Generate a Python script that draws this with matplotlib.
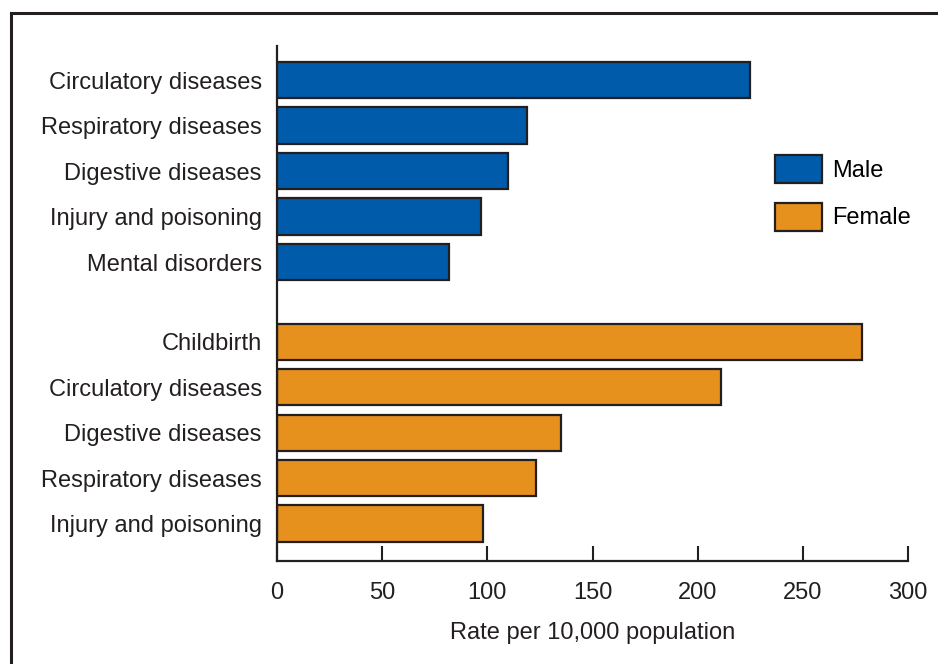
import matplotlib.pyplot as plt
from matplotlib.patches import Patch
from matplotlib.lines import Line2D

# data
male_labels = ['Circulatory diseases', 'Respiratory diseases', 'Digestive diseases',
               'Injury and poisoning', 'Mental disorders']
male_values = [225, 119, 110, 97, 82]
female_labels = ['Childbirth', 'Circulatory diseases', 'Digestive diseases',
                 'Respiratory diseases', 'Injury and poisoning']
female_values = [278, 211, 135, 123, 98]
x_ticks = [0, 50, 100, 150, 200, 250, 300]

blue = '#005BAA'
orange = '#E6901E'
edge = '#231F20'
fs = 17

plt.rcParams['font.family'] = ['Liberation Sans', 'DejaVu Sans']

fig = plt.figure(figsize=(9.38, 6.64), dpi=100)
ax = fig.add_axes([277 / 938, 1 - 561 / 664, (908 - 277) / 938, (561 - 46) / 664])

male_pos = [0, 1, 2, 3, 4]
female_pos = [5.75, 6.75, 7.75, 8.75, 9.75]

ax.barh(male_pos, male_values, height=0.8, color=blue, edgecolor=edge, linewidth=1.6)
ax.barh(female_pos, female_values, height=0.8, color=orange, edgecolor=edge, linewidth=1.6)

ax.set_yticks(male_pos + female_pos)
ax.set_yticklabels(male_labels + female_labels)
ax.set_ylim(10.57, -0.75)
ax.set_xlim(0, 300)
ax.set_xticks(x_ticks)

ax.tick_params(axis='y', length=0, pad=11, labelsize=fs, labelcolor=edge)
ax.tick_params(axis='x', direction='in', length=10.5, width=1.5, color=edge,
               pad=15, labelsize=fs, labelcolor=edge)
for s in ['top', 'right']:
    ax.spines[s].set_visible(False)
for s in ['left', 'bottom']:
    ax.spines[s].set_linewidth(1.6)
    ax.spines[s].set_color(edge)

ax.set_xlabel('Rate per 10,000 population', fontsize=fs, color=edge, labelpad=13)

handles = [Patch(facecolor=blue, edgecolor=edge, linewidth=1.6, label='Male'),
           Patch(facecolor=orange, edgecolor=edge, linewidth=1.6, label='Female')]
ax.legend(handles=handles, loc='upper left', bbox_to_anchor=(775 / 938, 1 - 155 / 664),
          bbox_transform=fig.transFigure, frameon=False, fontsize=fs,
          handlelength=1.99, handleheight=1.43, labelspacing=0.85, handletextpad=0.42,
          borderpad=0, borderaxespad=0)

# outer frame (left and top edges visible)
fig.add_artist(Line2D([10.5 / 938, 10.5 / 938], [0, 1 - 13 / 664], color=edge, linewidth=2.2))
fig.add_artist(Line2D([10.5 / 938, 1], [1 - 13 / 664, 1 - 13 / 664], color=edge, linewidth=2.2))

fig.savefig('out.png', dpi=100)
